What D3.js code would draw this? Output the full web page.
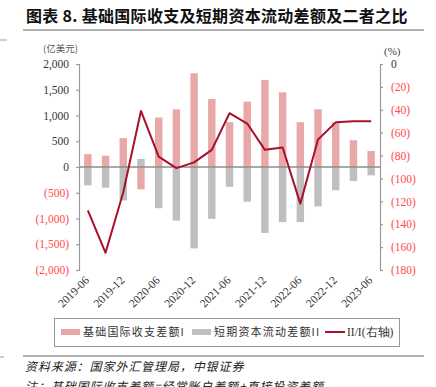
<!DOCTYPE html>
<html>
<head>
<meta charset="utf-8">
<script src="https://cdn.jsdelivr.net/npm/d3@7"></script>
<style>
	body { margin: 0; background: #fff; }
	svg { display: block; }
</style>
</head>
<body>
<div id="chart"></div>
<script>
// data (quarters 2019-06 .. 2023-06)
const quarters = ["2019-06", "2019-09", "2019-12", "2020-03", "2020-06", "2020-09", "2020-12", "2021-03",
	"2021-06", "2021-09", "2021-12", "2022-03", "2022-06", "2022-09", "2022-12", "2023-03", "2023-06"];
const basicBalance = [250, 220, 560, -435, 960, 1120, 1820, 1320, 870, 1270, 1690, 1450, 870, 1120, 870, 520, 310];
const shortCapital = [-357, -403, -650, 156, -800, -1040, -1580, -1005, -385, -675, -1280, -1070, -1070, -765, -450, -272, -161];
const ratio = [-128, -165, -112, -41, -81, -91, -86, -75, -43, -52, -75, -73, -122, -66, -51, -50, -50];
const leftTicks = [2000, 1500, 1000, 500, 0, -500, -1000, -1500, -2000];
const rightTicks = [0, -20, -40, -60, -80, -100, -120, -140, -160, -180];
const xLabels = ["2019-06", "2019-12", "2020-06", "2020-12", "2021-06", "2021-12", "2022-06", "2022-12", "2023-06"];

const width = 436;
const height = 387;
const plot = { left: 79, right: 380, top: 64, bottom: 270 };

const serif = "'Liberation Serif', 'Times New Roman', serif";
const cjk = "'Noto Sans CJK SC', sans-serif";
const pink = "#e8a8a8";
const gray = "#bfbfbf";
const lineColor = "#a8102c";
const red = "#ff4b4b";

const svg = d3.select("#chart")
	.append("svg")
	.attr("width", width)
	.attr("height", height);

// title and rules
svg.append("text")
	.attr("x", 26)
	.attr("y", 22)
	.attr("font-family", cjk)
	.attr("font-weight", "bold")
	.attr("font-size", 16)
	.attr("letter-spacing", 0.3)
	.attr("fill", "#111")
	.text("图表 8. 基础国际收支及短期资本流动差额及二者之比");

svg.append("line").attr("x1", 23).attr("x2", 424).attr("y1", 30).attr("y2", 30)
	.attr("stroke", "#999").attr("stroke-width", 1.5);
svg.append("line").attr("x1", 0).attr("x2", 7).attr("y1", 40).attr("y2", 40)
	.attr("stroke", "#999").attr("stroke-width", 1);
svg.append("line").attr("x1", 23).attr("x2", 424).attr("y1", 356).attr("y2", 356)
	.attr("stroke", "#999").attr("stroke-width", 1.5);
svg.append("line").attr("x1", 0).attr("x2", 4).attr("y1", 357).attr("y2", 357)
	.attr("stroke", "#999").attr("stroke-width", 1);

// scales
const xScale = d3.scaleBand()
	.domain(quarters)
	.range([plot.left, plot.right])
	.paddingInner(0.58)
	.paddingOuter(0.29);

const yLeft = d3.scaleLinear()
	.domain([-2000, 2000])
	.range([plot.bottom, plot.top]);

const yRight = d3.scaleLinear()
	.domain([-180, 0])
	.range([plot.bottom, plot.top]);

const fmt = (v) => {
	const s = d3.format(",")(Math.abs(v));
	return v < 0 ? `(${s})` : s;
};

// bars (overlapped in the same slot)
svg.selectAll(".bar-basic")
	.data(basicBalance)
	.enter()
	.append("rect")
	.attr("class", "bar-basic")
	.attr("x", (d, i) => xScale(quarters[i]))
	.attr("y", (d) => yLeft(Math.max(0, d)))
	.attr("width", xScale.bandwidth())
	.attr("height", (d) => Math.abs(yLeft(d) - yLeft(0)))
	.attr("fill", pink);

svg.selectAll(".bar-short")
	.data(shortCapital)
	.enter()
	.append("rect")
	.attr("class", "bar-short")
	.attr("x", (d, i) => xScale(quarters[i]))
	.attr("y", (d) => yLeft(Math.max(0, d)))
	.attr("width", xScale.bandwidth())
	.attr("height", (d) => Math.abs(yLeft(d) - yLeft(0)))
	.attr("fill", gray);

// zero line
svg.append("line")
	.attr("x1", plot.left)
	.attr("x2", plot.right)
	.attr("y1", yLeft(0))
	.attr("y2", yLeft(0))
	.attr("stroke", "#8c8c8c")
	.attr("stroke-width", 1.3);

// ratio line
const line = d3.line()
	.x((d, i) => xScale(quarters[i]) + xScale.bandwidth() / 2)
	.y((d) => yRight(d));

svg.append("path")
	.datum(ratio)
	.attr("d", line)
	.attr("fill", "none")
	.attr("stroke", lineColor)
	.attr("stroke-width", 2)
	.attr("stroke-linejoin", "round");

// axes
const leftAxis = d3.axisLeft(yLeft)
	.tickValues(leftTicks)
	.tickSize(3)
	.tickPadding(7)
	.tickFormat(fmt);
const gl = svg.append("g")
	.attr("transform", `translate(${plot.left}, 0)`)
	.call(leftAxis);

const rightAxis = d3.axisRight(yRight)
	.tickValues(rightTicks)
	.tickSize(3)
	.tickPadding(8)
	.tickFormat(fmt);
const gr = svg.append("g")
	.attr("transform", `translate(${plot.right}, 0)`)
	.call(rightAxis);

[gl, gr].forEach((g) => {
	g.select(".domain").attr("stroke", "#9a9a9a").attr("stroke-width", 1.2);
	g.selectAll(".tick line").attr("stroke", "#9a9a9a").attr("stroke-width", 1.2);
	g.selectAll(".tick text")
		.attr("font-family", serif)
		.attr("font-size", 11.5)
		.attr("fill", (d) => (d < 0 ? red : "#333"));
});

// x labels (every other quarter), rotated
svg.selectAll(".xlabel")
	.data(xLabels)
	.enter()
	.append("text")
	.attr("class", "xlabel")
	.attr("transform", (d) => `translate(${xScale(d) + xScale.bandwidth() / 2 + 2}, 281) rotate(-45)`)
	.attr("text-anchor", "end")
	.attr("font-family", serif)
	.attr("font-size", 11.5)
	.attr("fill", "#333")
	.text((d) => d);

// unit labels
svg.append("text")
	.attr("x", 43)
	.attr("y", 52)
	.attr("font-family", cjk)
	.attr("font-size", 9.5)
	.attr("fill", "#555")
	.text("(亿美元)");
svg.append("text")
	.attr("x", 384)
	.attr("y", 55)
	.attr("font-family", serif)
	.attr("font-size", 11)
	.attr("fill", "#444")
	.text("(%)");

// legend
svg.append("rect")
	.attr("x", 54.5)
	.attr("y", 318.5)
	.attr("width", 345)
	.attr("height", 28)
	.attr("fill", "none")
	.attr("stroke", "#999")
	.attr("stroke-width", 1);

const legendY = 332;
svg.append("rect").attr("x", 61).attr("y", legendY - 3).attr("width", 19).attr("height", 6).attr("fill", pink);
svg.append("text").attr("x", 83).attr("y", legendY + 4)
	.attr("font-family", cjk).attr("font-size", 11).attr("letter-spacing", 1.2).attr("fill", "#333")
	.text("基础国际收支差额I");
svg.append("rect").attr("x", 192).attr("y", legendY - 3).attr("width", 19).attr("height", 6).attr("fill", gray);
svg.append("text").attr("x", 214).attr("y", legendY + 4)
	.attr("font-family", cjk).attr("font-size", 11).attr("letter-spacing", 1.2).attr("fill", "#333")
	.text("短期资本流动差额II");
svg.append("line").attr("x1", 325).attr("x2", 345).attr("y1", legendY).attr("y2", legendY)
	.attr("stroke", lineColor).attr("stroke-width", 2);
svg.append("text").attr("x", 347).attr("y", legendY + 4)
	.attr("font-family", serif).attr("font-size", 11.5).attr("fill", "#333")
	.text("II/I(右轴)");

// source notes
svg.append("text")
	.attr("x", 25)
	.attr("y", 371)
	.attr("font-family", cjk)
	.attr("font-style", "italic")
	.attr("font-size", 12)
	.attr("letter-spacing", 0.9)
	.attr("fill", "#222")
	.text("资料来源：国家外汇管理局，中银证券");
svg.append("text")
	.attr("x", 25)
	.attr("y", 391)
	.attr("font-family", cjk)
	.attr("font-style", "italic")
	.attr("font-size", 12)
	.attr("letter-spacing", 0.9)
	.attr("fill", "#222")
	.text("注：基础国际收支差额=经常账户差额+直接投资差额");
</script>
</body>
</html>
